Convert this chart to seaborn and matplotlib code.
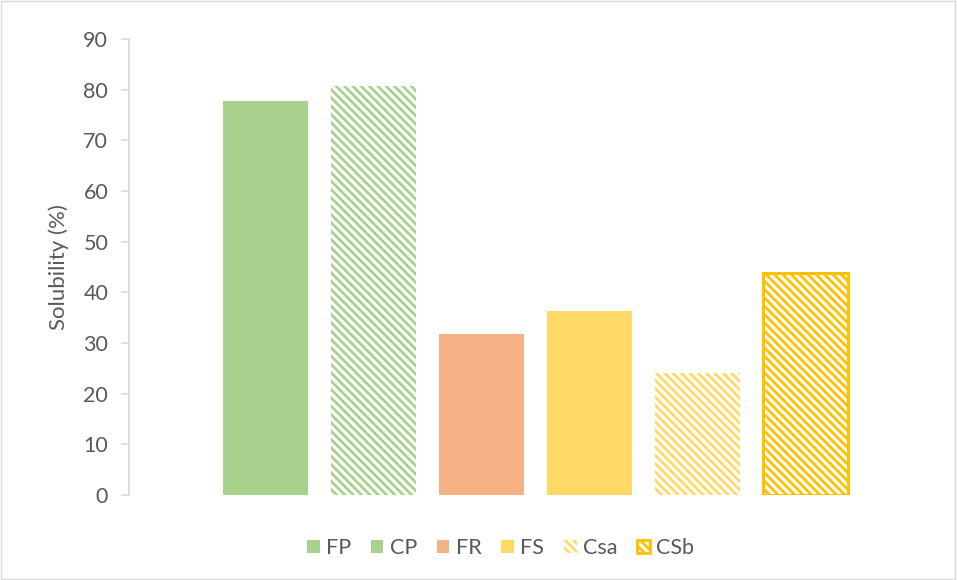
import matplotlib
matplotlib.use('Agg')
import matplotlib.pyplot as plt
import matplotlib.patches as mpatches
import seaborn as sns

categories = ['FP', 'CP', 'FR', 'FS', 'Csa', 'CSb']
solubility = [77.8, 80.8, 31.8, 36.3, 24.1, 43.8]
fill_colors = ['#A9D18E', 'white', '#F4B183', '#FFD966', 'white', 'white']
hatch_colors = [None, '#A9D18E', None, None, '#FFD966', '#FFD966']
edge_colors = [None, None, None, None, None, '#FFC000']
legend_colors = ['#A9D18E', '#A9D18E', '#F4B183', '#FFD966', '#FFD966', '#FFD966']

sns.set_style('white')
plt.rcParams['font.family'] = ['Lato', 'DejaVu Sans']
plt.rcParams['hatch.linewidth'] = 2.0
grey = '#595959'
hatch = '\\' * 4

fig = plt.figure(figsize=(9.57, 5.8), dpi=100)
ax = fig.add_axes([0.1348, 0.1466, 0.8492, 0.7862])

sns.barplot(x=categories, y=solubility, palette=legend_colors, width=0.787,
            saturation=1, ax=ax)

for p, fc, hc, ec in zip(ax.patches, fill_colors, hatch_colors, edge_colors):
    p.set_facecolor(fc)
    p.set_linewidth(0)
    if hc is not None:
        p.set_edgecolor(hc)
        p.set_hatch(hatch)
    if ec is not None:
        p.set_linewidth(2.2)
        p.set_edgecolor(ec)
        if hasattr(p, 'set_hatchcolor'):
            p.set_hatchcolor(hc)

ax.set_xlim(-1.264, 6.264)
ax.set_ylim(0, 90)
ax.set_yticks(range(0, 91, 10))
ax.set_xticks([])
ax.set_xlabel('')
ax.set_ylabel('Solubility (%)', fontsize=16, color=grey, labelpad=10)
ax.tick_params(axis='y', left=True, length=6, width=1.2, color='#D9D9D9',
               labelsize=15.5, labelcolor=grey, pad=9)
for s in ['top', 'right', 'bottom']:
    ax.spines[s].set_visible(False)
ax.spines['left'].set_color('#D9D9D9')
ax.spines['left'].set_linewidth(1.2)

handles = []
for i, c in enumerate(categories):
    if i >= 4:
        h = mpatches.Patch(facecolor='white', edgecolor=legend_colors[i],
                           hatch=hatch, linewidth=0 if i == 4 else 2,
                           label=c)
        if i == 5:
            h.set_edgecolor('#FFC000')
            if hasattr(h, 'set_hatchcolor'):
                h.set_hatchcolor('#FFD966')
    else:
        h = mpatches.Patch(facecolor=legend_colors[i], linewidth=0, label=c)
    handles.append(h)

fig.legend(handles=handles, loc='center', bbox_to_anchor=(0.523, 0.055),
           ncol=6, frameon=False, fontsize=15.5, handlelength=0.6,
           handleheight=0.6, handletextpad=0.3, columnspacing=0.9,
           labelcolor=grey)

fig.patches.append(mpatches.Rectangle((0.001, 0.002), 0.997, 0.996,
                                      transform=fig.transFigure, fill=False,
                                      edgecolor='#D9D9D9', linewidth=1))

fig.savefig('out.png', dpi=100)
